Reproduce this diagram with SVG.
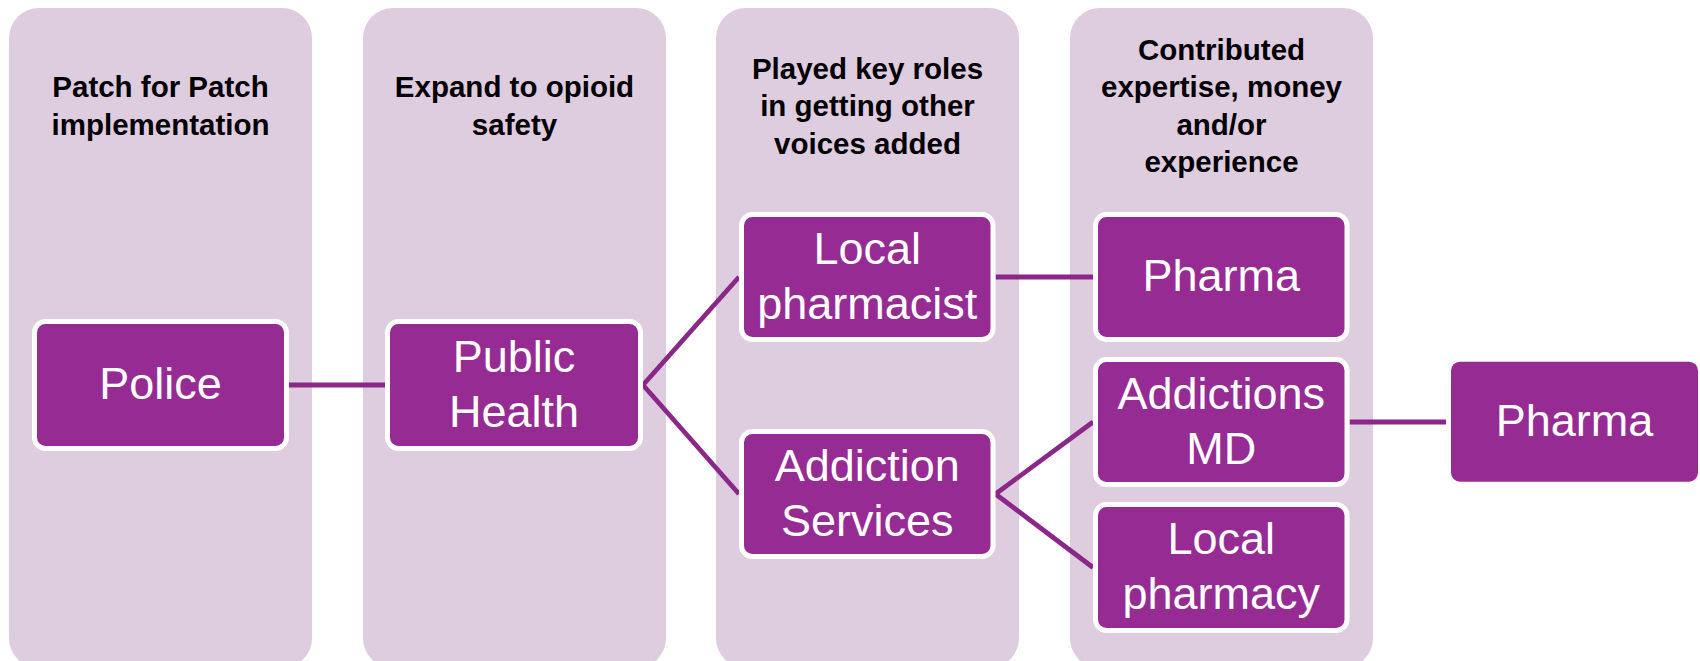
<svg xmlns="http://www.w3.org/2000/svg" width="1700" height="661" viewBox="0 0 1700 661">
<style>
.col{fill:#DECCDF}
.hdr{font-family:"Liberation Sans",Arial,sans-serif;font-weight:bold;font-size:29.5px;fill:#000;text-anchor:middle}
.box{fill:#952B93;stroke:#FFFFFF;stroke-width:5}
.box2{fill:#952B93}
.lbl{font-family:"Liberation Sans",Arial,sans-serif;font-size:45px;fill:#FFFFFF;text-anchor:middle}
.con{stroke:#8A2788;stroke-width:4.8;fill:none}
</style>
<rect width="1700" height="661" fill="#FFFFFF"/>
<g id="columns">
<g id="col1"><rect class="col" x="9" y="8" width="303" height="660" rx="30"/>
<text class="hdr" x="160.5" y="97.25">Patch for Patch</text>
<text class="hdr" x="160.5" y="134.75">implementation</text></g>
<g id="col2"><rect class="col" x="363" y="8" width="303" height="660" rx="30"/>
<text class="hdr" x="514.5" y="97.25">Expand to opioid</text>
<text class="hdr" x="514.5" y="134.75">safety</text></g>
<g id="col3"><rect class="col" x="716" y="8" width="303" height="660" rx="30"/>
<text class="hdr" x="867.5" y="78.5">Played key roles</text>
<text class="hdr" x="867.5" y="116">in getting other</text>
<text class="hdr" x="867.5" y="153.5">voices added</text></g>
<g id="col4"><rect class="col" x="1070" y="8" width="303" height="660" rx="30"/>
<text class="hdr" x="1221.5" y="59.75">Contributed</text>
<text class="hdr" x="1221.5" y="97.25">expertise, money</text>
<text class="hdr" x="1221.5" y="134.75">and/or</text>
<text class="hdr" x="1221.5" y="172.25">experience</text></g>
</g>
<g id="connectors">
<line class="con" x1="289" y1="385" x2="385" y2="385"/>
<line class="con" x1="643" y1="385" x2="739" y2="277"/>
<line class="con" x1="643" y1="385" x2="739" y2="494"/>
<line class="con" x1="995.5" y1="277" x2="1093" y2="277"/>
<line class="con" x1="995.5" y1="494" x2="1093" y2="422"/>
<line class="con" x1="995.5" y1="494" x2="1093" y2="567.5"/>
<line class="con" x1="1349.5" y1="422" x2="1446" y2="422"/>
</g>
<g id="police"><rect class="box" x="34.5" y="321.5" width="252" height="127" rx="11"/>
<text class="lbl" x="160.5" y="399">Police</text></g>
<g id="public-health"><rect class="box" x="387.5" y="321.5" width="253" height="127" rx="11"/>
<text class="lbl" x="514" y="371.5">Public</text>
<text class="lbl" x="514" y="426.5">Health</text></g>
<g id="local-pharmacist"><rect class="box" x="741.5" y="214.5" width="251.5" height="125" rx="11"/>
<text class="lbl" x="867.25" y="263.5">Local</text>
<text class="lbl" x="867.25" y="318.5">pharmacist</text></g>
<g id="addiction-services"><rect class="box" x="741.5" y="431.5" width="251.5" height="125" rx="11"/>
<text class="lbl" x="867.25" y="480.5">Addiction</text>
<text class="lbl" x="867.25" y="535.5">Services</text></g>
<g id="pharma-1"><rect class="box" x="1095.5" y="214.5" width="251.5" height="125" rx="11"/>
<text class="lbl" x="1221.25" y="291">Pharma</text></g>
<g id="addictions-md"><rect class="box" x="1095.5" y="359.5" width="251.5" height="125" rx="11"/>
<text class="lbl" x="1221.25" y="408.5">Addictions</text>
<text class="lbl" x="1221.25" y="463.5">MD</text></g>
<g id="local-pharmacy"><rect class="box" x="1095.5" y="504.5" width="251.5" height="126" rx="11"/>
<text class="lbl" x="1221.25" y="554">Local</text>
<text class="lbl" x="1221.25" y="609">pharmacy</text></g>
<g id="pharma-2"><rect class="box2" x="1451" y="361.7" width="247" height="120" rx="9"/>
<text class="lbl" x="1574.5" y="436">Pharma</text></g>
</svg>
